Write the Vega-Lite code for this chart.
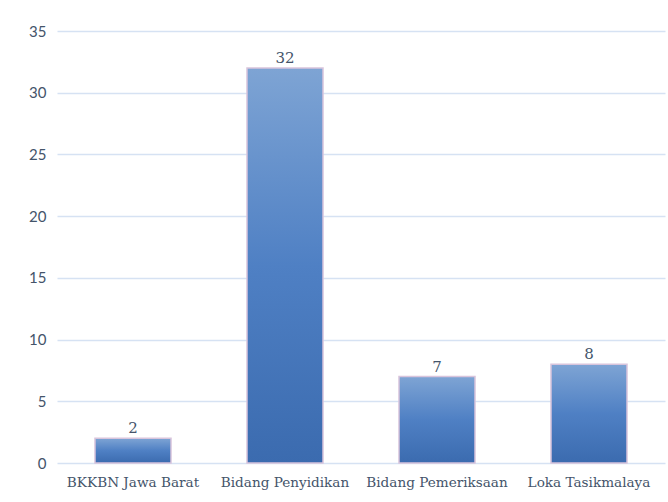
{
  "$schema": "https://vega.github.io/schema/vega-lite/v6.json",
  "width": 608,
  "height": 432,
  "autosize": {"type": "none"},
  "padding": {"left": 57, "top": 31, "right": 3, "bottom": 39},
  "background": "white",
  "config": {"view": {"stroke": null}},
  "data": {"values": [
    {"kategori": "BKKBN Jawa Barat", "jumlah": 2},
    {"kategori": "Bidang Penyidikan", "jumlah": 32},
    {"kategori": "Bidang Pemeriksaan", "jumlah": 7},
    {"kategori": "Loka Tasikmalaya", "jumlah": 8}
  ]},
  "encoding": {
    "x": {"field": "kategori", "type": "nominal", "sort": null,
      "scale": {"paddingInner": 0.5, "paddingOuter": 0.25},
      "axis": {"title": null, "labelAngle": 0, "domain": false, "ticks": false, "labelPadding": 12,
        "labelFont": "DejaVu Serif", "labelFontSize": 13.6, "labelColor": "#44546a"}},
    "y": {"field": "jumlah", "type": "quantitative",
      "scale": {"domain": [0, 35]},
      "axis": {"title": null, "values": [0,5,10,15,20,25,30,35], "domain": false, "ticks": false,
        "labelPadding": 11, "labelFont": "Lato", "labelFontSize": 15, "labelColor": "#44546a",
        "gridColor": "#d6e2f3", "gridWidth": 1.4}}
  },
  "layer": [
    {"mark": {"type": "bar", "strokeWidth": 1.5, "stroke": "#d8c4dc",
      "color": {"gradient": "linear", "x1": 0, "y1": 0, "x2": 0, "y2": 1,
        "stops": [{"offset": 0, "color": "#7ea4d4"}, {"offset": 0.5, "color": "#4f80c4"}, {"offset": 1, "color": "#3b6baf"}]}}},
    {"mark": {"type": "text", "baseline": "bottom", "dy": -2, "font": "DejaVu Serif", "fontSize": 15, "color": "#44546a"},
      "encoding": {"text": {"field": "jumlah", "type": "quantitative"}}}
  ]
}
